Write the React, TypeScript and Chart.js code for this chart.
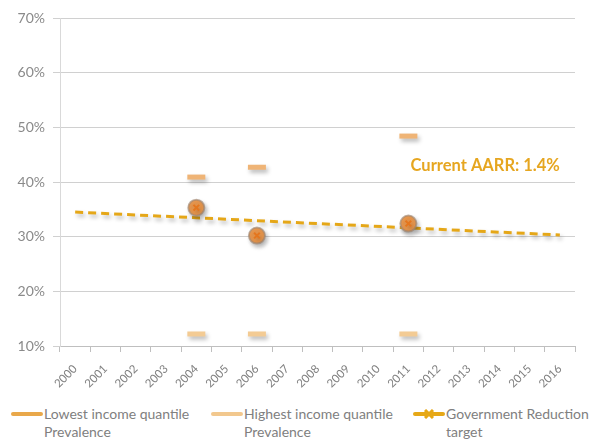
import React, { useEffect, useRef } from "react";
import { Chart, registerables } from "chart.js";

Chart.register(...registerables);

const years = ["2000", "2001", "2002", "2003", "2004", "2005", "2006", "2007", "2008", "2009", "2010", "2011", "2012", "2013", "2014", "2015", "2016"];
const lowestIncome = [null, null, null, null, 40.9, null, 42.7, null, null, null, null, 48.4, null, null, null, null, null];
const highestIncome = [null, null, null, null, 12.2, null, 12.2, null, null, null, null, 12.2, null, null, null, null, null];
const nationalPrevalence = [null, null, null, null, 35.3, null, 30.2, null, null, null, null, 32.4, null, null, null, null, null];
const reductionTrend = [34.5, null, null, null, null, null, null, null, null, null, null, null, null, null, null, null, 30.3];
const yMin = 10;
const yMax = 70;
const yStep = 10;
const annotationText = "Current AARR: 1.4%";
const annotationValue = 43;
const annotationIndex = 16;

const FONT = "Lato, 'Open Sans', sans-serif";

const legendItems = [
  { label: ["Lowest income quantile", "Prevalence"], color: "#E9A84A", kind: "line" },
  { label: ["Highest income quantile", "Prevalence"], color: "#F2C88E", kind: "line" },
  { label: ["Government Reduction", "target"], color: "#E6A817", kind: "cross" },
];

const shadowPlugin = {
  id: "shadowPlugin",
  beforeDatasetDraw(chart: any) {
    const ctx = chart.ctx;
    ctx.save();
    ctx.shadowColor = "rgba(0,0,0,0.28)";
    ctx.shadowBlur = 4;
    ctx.shadowOffsetX = 2;
    ctx.shadowOffsetY = 3;
  },
  afterDatasetDraw(chart: any) {
    chart.ctx.restore();
  },
};

const annotationPlugin = {
  id: "annotationPlugin",
  afterDatasetsDraw(chart: any) {
    const { ctx, scales } = chart;
    const x = scales.x.getPixelForValue(annotationIndex);
    const y = scales.y.getPixelForValue(annotationValue);
    ctx.save();
    ctx.font = `bold 16.5px ${FONT}`;
    ctx.fillStyle = "#E6A620";
    ctx.textAlign = "right";
    ctx.textBaseline = "middle";
    ctx.fillText(annotationText, x, y);
    ctx.restore();
  },
};

function LegendIcon({ color, kind }: { color: string; kind: string }) {
  return (
    <svg width="32" height="10" style={{ flex: "0 0 auto", marginTop: 4 }}>
      <line x1="2" y1="5" x2="30" y2="5" stroke={color} strokeWidth="4" strokeLinecap="round" />
      {kind === "cross" ? (
        <g stroke={color} strokeWidth="3">
          <line x1="12" y1="1" x2="20" y2="9" />
          <line x1="12" y1="9" x2="20" y2="1" />
        </g>
      ) : null}
    </svg>
  );
}

export default function App() {
  const canvasRef = useRef<HTMLCanvasElement | null>(null);

  useEffect(() => {
    if (!canvasRef.current) return;
    const chart = new Chart(canvasRef.current, {
      type: "line",
      data: {
        labels: years,
        datasets: [
          {
            label: "Lowest income quantile Prevalence",
            data: lowestIncome as any,
            showLine: false,
            pointStyle: "line",
            pointRadius: 9,
            pointBorderWidth: 5,
            pointBorderColor: "#EFB476",
            borderColor: "#EFB476",
            order: 1,
          },
          {
            label: "Highest income quantile Prevalence",
            data: highestIncome as any,
            showLine: false,
            pointStyle: "line",
            pointRadius: 9,
            pointBorderWidth: 5,
            pointBorderColor: "#F3CB94",
            borderColor: "#F3CB94",
            order: 1,
          },
          {
            label: "Government Reduction target",
            data: nationalPrevalence as any,
            showLine: false,
            pointStyle: "crossRot",
            pointRadius: 4,
            pointBorderWidth: 2,
            pointBorderColor: "#E4761E",
            order: 2,
          },
          {
            label: "Prevalence",
            data: nationalPrevalence as any,
            showLine: false,
            pointStyle: "circle",
            pointRadius: 8,
            pointBorderWidth: 2,
            pointBackgroundColor: "#F09C50",
            pointBorderColor: "rgba(160,135,115,0.65)",
            order: 3,
          },
          {
            label: "AARR trend",
            data: reductionTrend as any,
            spanGaps: true,
            borderColor: "#E5A718",
            borderWidth: 3,
            borderDash: [8, 5],
            pointRadius: 0,
            fill: false,
            order: 4,
          },
        ],
      },
      options: {
        animation: false,
        responsive: false,
        maintainAspectRatio: false,
        layout: { padding: { top: 18, right: 9, left: 0, bottom: 0 } },
        plugins: {
          legend: { display: false },
          tooltip: { enabled: false },
          title: { display: false },
        },
        scales: {
          x: {
            type: "category",
            offset: true,
            grid: {
              offset: true,
              drawOnChartArea: false,
              drawTicks: true,
              tickLength: 6,
              color: "#bfbfbf",
            },
            border: { color: "#bfbfbf" },
            ticks: {
              maxRotation: 45,
              minRotation: 45,
              autoSkip: false,
              color: "#808080",
              padding: 10,
              font: { family: FONT, size: 11.5 },
            },
            afterFit: (s: any) => {
              s.height = 54;
            },
          },
          y: {
            min: yMin,
            max: yMax,
            ticks: {
              stepSize: yStep,
              color: "#8a8a8a",
              padding: 8,
              font: { family: FONT, size: 14 },
              callback: (v: any) => `${v}%`,
            },
            grid: { color: "#d0d0d0", tickLength: 7 },
            border: { color: "#d9d9d9" },
            afterFit: (s: any) => {
              s.width = 60;
            },
          },
        },
      },
      plugins: [shadowPlugin, annotationPlugin],
    } as any);
    return () => chart.destroy();
  }, []);

  return (
    <div style={{ position: "fixed", left: 0, top: 0, width: 589, height: 439, background: "#fff", overflow: "hidden" }}>
      <canvas ref={canvasRef} width={589} height={400} style={{ display: "block", width: 589, height: 400 }} />
      <div style={{ position: "absolute", top: 405, left: 0, width: 589, height: 34 }}>
        {legendItems.map((item, i) => (
          <div
            key={i}
            style={{
              position: "absolute",
              left: [11, 211, 413][i],
              top: 0,
              display: "flex",
              alignItems: "flex-start",
              fontFamily: FONT,
              fontSize: 14,
              lineHeight: "18px",
              color: "#808080",
            }}
          >
            <LegendIcon color={item.color} kind={item.kind} />
            <div style={{ marginLeft: 1 }}>
              {item.label.map((l, j) => (
                <div key={j} style={{ whiteSpace: "nowrap" }}>{l}</div>
              ))}
            </div>
          </div>
        ))}
      </div>
    </div>
  );
}
